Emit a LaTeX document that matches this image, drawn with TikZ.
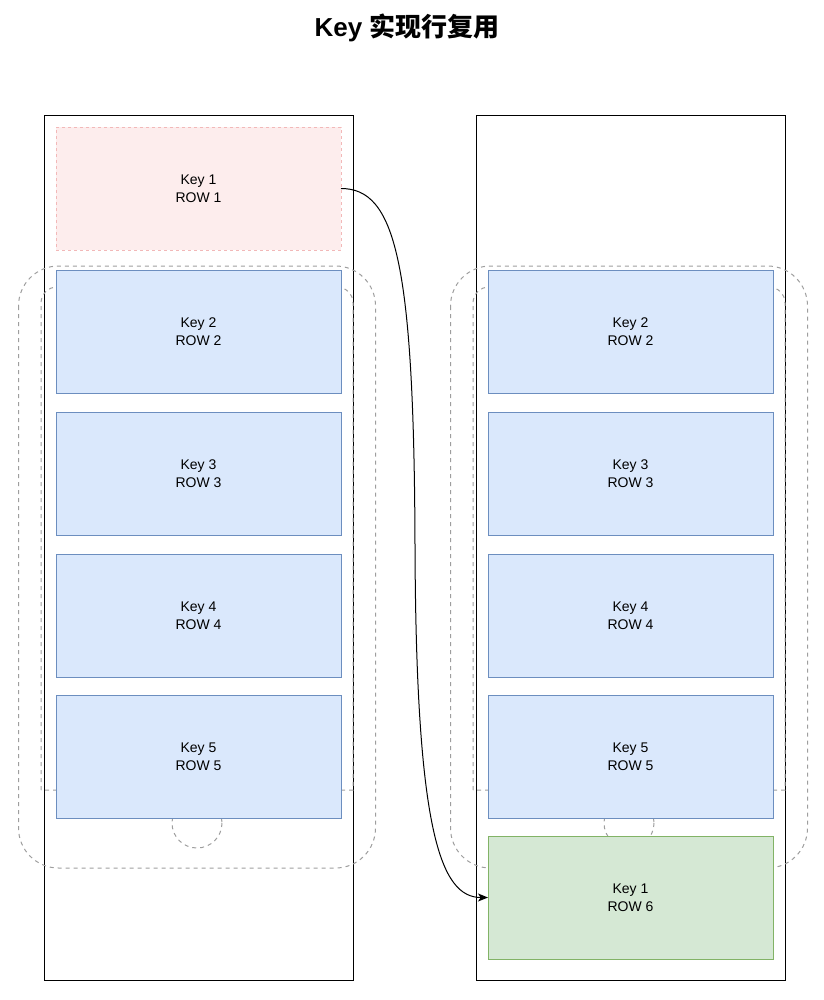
\documentclass[tikz,border=0pt]{standalone}
\usepackage{fontspec}
\setmainfont{Liberation Sans}
\newfontfamily\cjkfont{Noto Sans CJK SC}
\usepackage{xcolor}
\usetikzlibrary{arrows.meta}

\definecolor{oldFill}{HTML}{FDEDED}
\definecolor{oldLine}{HTML}{F2B8B8}
\definecolor{rowFill}{HTML}{DAE8FC}
\definecolor{rowLine}{HTML}{6C8EBF}
\definecolor{newFill}{HTML}{D5E8D4}
\definecolor{newLine}{HTML}{82B366}
\definecolor{phoneLine}{HTML}{9E9E9E}

\begin{document}
\begin{tikzpicture}[x=0.75pt,y=0.75pt,yscale=-1,xscale=1,
  column/.style={draw=black,line width=0.75pt,inner sep=0pt,outer sep=0pt,
    minimum width=231.75pt,minimum height=648.75pt},
  rowbox/.style={draw=rowLine,fill=rowFill,line width=0.75pt,inner sep=0pt,outer sep=0pt,
    minimum width=213.75pt,minimum height=92.25pt,align=center,
    font=\fontsize{10.5pt}{13.5pt}\selectfont},
  oldbox/.style={rowbox,draw=oldLine,fill=oldFill,dash pattern=on 2.25pt off 2.25pt},
  newbox/.style={rowbox,draw=newLine,fill=newFill},
  phone/.style={draw=phoneLine,line width=0.75pt,dash pattern=on 3pt off 3pt},
  link/.style={draw=black,line width=0.75pt,-{Stealth[length=7.5pt,width=6pt,inset=2pt]}},
  title/.style={font=\bfseries\fontsize{19.5pt}{22pt}\selectfont}]
\useasboundingbox (0,0) rectangle (824,1000);

% Text Node
\node[title] (title) at (407,28) {Key {\cjkfont 实现行复用}};

%Shape: Rectangle
\node[column] (lcol) at (198.5,547.5) {};
%Shape: Rectangle
\node[column] (rcol) at (630.5,547.5) {};

%Shape: Phone outline
\foreach \cx in {197,629}{
  \draw[phone,rounded corners=30pt] (\cx-178.5,266) rectangle (\cx+178.5,868);
  \draw[phone] (\cx-156,790) [rounded corners=12pt] -- (\cx-156,287) -- (\cx+156,287) [sharp corners] -- (\cx+156,790) -- cycle;
  \draw[phone] (\cx,823) circle [radius=25];
}

%Shape: Rectangle
\node[oldbox] (l1) at (198.5,188.5) {Key 1\\ROW 1};
\foreach \n/\y in {2/331.5,3/473.5,4/615.5,5/756.5}{
  %Shape: Rectangle
  \node[rowbox] (l\n) at (198.5,\y) {Key \n\\ROW \n};
  %Shape: Rectangle
  \node[rowbox] (r\n) at (630.5,\y) {Key \n\\ROW \n};
}
%Shape: Rectangle
\node[newbox] (r6) at (630.5,897.5) {Key 1\\ROW 6};

%Curve Lines
\coordinate (bend) at (415,545);
\draw[link] (l1.east) .. controls +(54,0) and +(-1,-285) .. (bend)
  .. controls +(1,285) and +(-48,0) .. (r6.west);

\end{tikzpicture}
\end{document}
